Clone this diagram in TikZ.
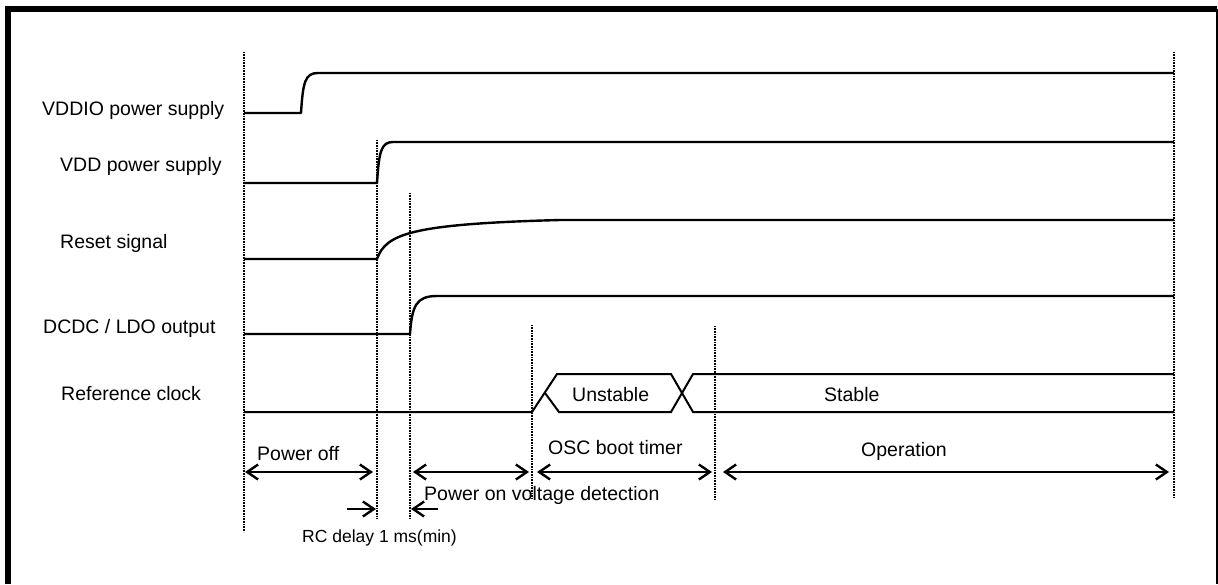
\documentclass[tikz,border=0pt]{standalone}
\usepackage{fontspec}
\setmainfont{Liberation Sans}
\usetikzlibrary{
  positioning,
  arrows.meta,
  calc
}

\begin{document}
\begin{tikzpicture}[
  x=1pt, y=-1pt,
  font=\fontsize{19.5}{22}\selectfont,
  signal/.style={line width=2.4pt, line join=round},
  clock/.style={line width=2pt, line join=miter},
  guide/.style={line width=1.5pt, dash pattern=on 0.9pt off 0.7pt},
  signame/.style={anchor=base west, inner sep=0pt},
  phase/.style={anchor=base west, inner sep=0pt},
  period/.style={{Straight Barb[length=11pt,width=15pt]}-{Straight Barb[length=11pt,width=15pt]}, line width=2.4pt},
  delay/.style={-{Straight Barb[length=11pt,width=15pt]}, line width=2.4pt}
]
\useasboundingbox (0,0) rectangle (1218,584);

% Frame
\draw[line width=6pt] (8,584) -- (8,9) -- (1217,9);
\draw[line width=1.8pt] (1217,9) -- (1217,584);

% Guide lines
\draw[guide] (244,52) -- (244,532);
\draw[guide] (377,140) -- (377,518);
\draw[guide] (410,193) -- (410,519);
\draw[guide] (532,325) -- (532,498);
\draw[guide] (715,326) -- (715,499);
\draw[guide] (1174,52) -- (1174,497);

% Signal names
\node[signame] (vddio) at (42,115) {VDDIO power supply};
\node[signame] (vdd) at (60,171) {VDD power supply};
\node[signame] (reset) at (60,248) {Reset signal};
\node[signame] (dcdc) at (43,333) {DCDC / LDO output};
\node[signame] (refclk) at (61,400) {Reference clock};

% Waveforms
\draw[signal] (244,113) -- (301,113) .. controls (303,82) and (305,73) .. (318,73) -- (1174,73);
\draw[signal] (244,183) -- (377,183) .. controls (379,152) and (381,142) .. (393,142) -- (1174,142);
\draw[signal] (244,259) -- (377,259) .. controls (386,234) and (410,224) .. (560,220) -- (1174,220);
\draw[signal] (244,334) -- (410,334) .. controls (412,306) and (416,296) .. (437,296) -- (1174,296);
\draw[clock] (244,412) -- (532,412) -- (557,374) -- (671,374) -- (693,412) -- (1174,412);
\draw[clock] (545,393) -- (559,412) -- (671,412) -- (693,374) -- (1174,374);
\node[phase] (unstable) at (572,401) {Unstable};
\node[phase] (stable) at (824,401) {Stable};

% Phases
\coordinate (off-l) at (245,472);
\coordinate (off-r) at (373,472);
\coordinate (det-l) at (413,472);
\coordinate (det-r) at (529,472);
\coordinate (osc-l) at (537,472);
\coordinate (osc-r) at (712,472);
\coordinate (op-l) at (723,472);
\coordinate (op-r) at (1169,472);
\coordinate (rc-a) at (347,509);
\coordinate (rc-b) at (376,509);
\coordinate (rc-c) at (438,509);
\coordinate (rc-d) at (411,509);

\node[phase] (poweroff) at (257,460) {Power off};
\node[phase] (oscboot) at (548,454) {OSC boot timer};
\node[phase] (operation) at (861,456) {Operation};
\node[phase] (detect) at (424,500) {Power on voltage detection};
\node[phase, font=\fontsize{17.5}{20}\selectfont] (rcdelay) at (302,542) {RC delay 1 ms(min)};

% Arrows
\draw[period] (off-l) -- (off-r);
\draw[period] (det-l) -- (det-r);
\draw[period] (osc-l) -- (osc-r);
\draw[period] (op-l) -- (op-r);
\draw[delay] (rc-a) -- (rc-b);
\draw[delay] (rc-c) -- (rc-d);

\end{tikzpicture}
\end{document}
